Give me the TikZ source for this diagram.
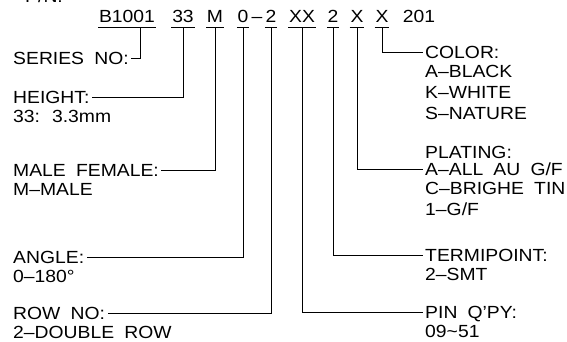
\documentclass[tikz,border=0pt]{standalone}
\usepackage{fontspec}
\setmainfont{Liberation Sans}[FakeStretch=1.1, WordSpace=1.9]
\usetikzlibrary{positioning}

\begin{document}
\begin{tikzpicture}[
    x=0.3mm, y=-0.3mm,
    every node/.style={font=\fontsize{15}{18}\selectfont},
    code/.style={inner xsep=0.5pt, inner ysep=0pt, text height=10.7pt, text depth=3.4pt, anchor=base},
    title/.style={inner sep=0pt, text height=10.7pt, text depth=0pt, anchor=west},
    note/.style={inner sep=0pt, align=left},
    lead/.style={draw=black, line width=0.6pt, shorten >=2pt}
]
\useasboundingbox (0,0) rectangle (567,342);

% Part number
\node (pn) [inner sep=0pt, anchor=base west] at (25,3) {P/N:};
\node (pser) [code] at (127,23) {B1001};
\node (phgt) [code] at (183,23) {33};
\node (pgen) [code] at (215,23) {M};
\node (pang) [code] at (243,23) {0};
\node (pdash) [code] at (257,23) {--};
\node (prow) [code] at (271,23) {2};
\node (ppin) [code] at (302,23) {XX};
\node (pterm) [code] at (333,23) {2};
\node (pplt) [code] at (357,23) {X};
\node (pcol) [code] at (382,23) {X};
\node (pend) [code, anchor=base west] at (402,23) {201};

\draw [line width=0.6pt] (pser.south west) -- (pser.south east)
    (phgt.south west) -- (phgt.south east)
    (pgen.south west) -- (pgen.south east)
    (pang.south west) -- (pang.south east)
    (prow.south west) -- (prow.south east)
    (ppin.south west) -- (ppin.south east)
    (pterm.south west) -- (pterm.south east)
    (pplt.south west) -- (pplt.south east)
    (pcol.south west) -- (pcol.south east);

% Left side
\node (ser) [title] at (13,58) {SERIES NO:};
\node (hgt) [title] at (13,97) {HEIGHT:};
\node (hgtnote) [note, below right=5.5pt and 0pt of hgt.south west] {33: 3.3mm};
\node (gen) [title] at (13,170) {MALE FEMALE:};
\node (gennote) [note, below right=5.5pt and 0pt of gen.south west] {M--MALE};
\node (ang) [title] at (13,257) {ANGLE:};
\node (angnote) [note, below right=5.5pt and 0pt of ang.south west] {0--180°};
\node (row) [title] at (13,313) {ROW NO:};
\node (rownote) [note, below right=5.5pt and 0pt of row.south west] {2--DOUBLE ROW};

% Right side
\node (col) [title] at (425,52) {COLOR:};
\node (colnote) [note, below right=5.5pt and 0pt of col.south west] {A--BLACK\\K--WHITE\\S--NATURE};
\node (plt) [title] at (425,152) {PLATING:};
\node (pltA) [title] at (425,169) {A--ALL AU G/F};
\node (pltnote) [note, below right=5.5pt and 0pt of pltA.south west] {C--BRIGHE TIN\\1--G/F};
\node (term) [title] at (425,255) {TERMIPOINT:};
\node (termnote) [note, below right=5.5pt and 0pt of term.south west] {2--SMT};
\node (pin) [title] at (425,312) {PIN Q'PY:};
\node (pinnote) [note, below right=5.5pt and 0pt of pin.south west] {09\textasciitilde51};

% Connections
\draw [lead] ([xshift=3.9mm]pser.south) |- (ser.east);
\draw [lead] (phgt.south) |- (hgt.east);
\draw [lead] (pgen.south) |- (gen.east);
\draw [lead] (pang.south) |- (ang.east);
\draw [lead] (prow.south) |- (row.east);
\draw [lead] (pcol.south) |- (col.west);
\draw [lead] (pplt.south) |- (pltA.west);
\draw [lead] (pterm.south) |- (term.west);
\draw [lead] (ppin.south) |- (pin.west);

\end{tikzpicture}
\end{document}
